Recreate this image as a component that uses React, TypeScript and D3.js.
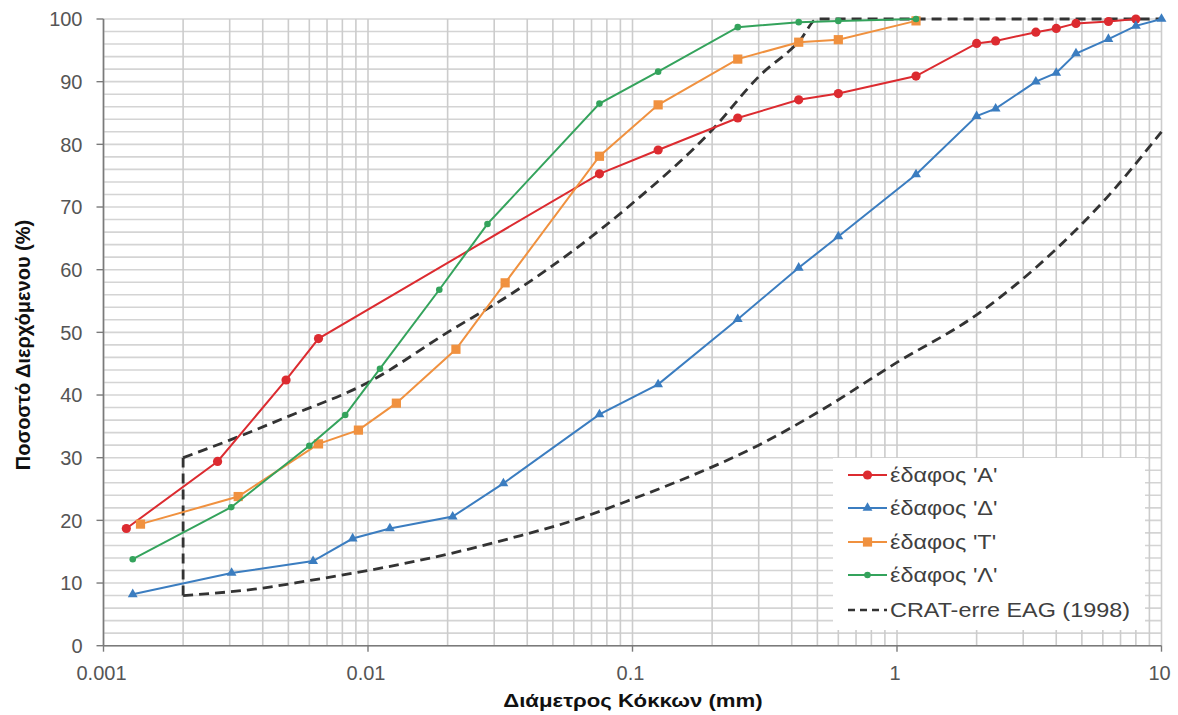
import React from "react";
import * as d3 from "d3";

// ---------- data ----------
const xTickValues = [0.001, 0.01, 0.1, 1, 10];
const xTickLabels = ["0.001", "0.01", "0.1", "1", "10"];
const yTickValues = [0, 10, 20, 30, 40, 50, 60, 70, 80, 90, 100];

const soilA_d = [0.00122, 0.0027, 0.0049, 0.0065, 0.075, 0.125, 0.25, 0.425, 0.6, 1.18, 2.0, 2.36, 3.35, 4.0, 4.75, 6.3, 8.0];
const soilA_p = [18.7, 29.4, 42.4, 49.0, 75.3, 79.1, 84.2, 87.1, 88.1, 90.9, 96.1, 96.5, 97.9, 98.5, 99.3, 99.6, 100];

const soilD_d = [0.00129, 0.00305, 0.0062, 0.00875, 0.0121, 0.0209, 0.0325, 0.075, 0.125, 0.25, 0.425, 0.6, 1.18, 2.0, 2.36, 3.35, 4.0, 4.75, 6.3, 8.0, 10];
const soilD_p = [8.2, 11.6, 13.5, 17.1, 18.7, 20.6, 25.9, 36.9, 41.7, 52.1, 60.3, 65.3, 75.2, 84.5, 85.7, 90.0, 91.4, 94.5, 96.8, 98.9, 100];

const soilT_d = [0.00138, 0.00323, 0.0065, 0.0092, 0.0128, 0.0215, 0.033, 0.075, 0.125, 0.25, 0.425, 0.6, 1.18];
const soilT_p = [19.4, 23.8, 32.2, 34.4, 38.7, 47.3, 57.9, 78.1, 86.3, 93.6, 96.3, 96.7, 99.7];

const soilL_d = [0.00129, 0.00304, 0.006, 0.0082, 0.0111, 0.0186, 0.0283, 0.075, 0.125, 0.25, 0.425, 0.6, 1.18];
const soilL_p = [13.8, 22.1, 31.9, 36.8, 44.2, 56.8, 67.3, 86.5, 91.6, 98.7, 99.5, 99.7, 100];

const cratUpper_d = [0.002, 0.003, 0.005, 0.01, 0.02, 0.035, 0.1, 0.2, 0.3, 0.43, 0.5, 10];
const cratUpper_p = [30, 32.8, 36.6, 42, 50, 56.2, 70.6, 82.3, 90.8, 96.6, 100, 100];
const cratLower_d = [0.002, 0.004, 0.006, 0.01, 0.02, 0.035, 0.06, 0.1, 0.15, 0.3, 0.5, 1, 2, 4, 6, 10];
const cratLower_p = [8, 9.2, 10.4, 12, 14.6, 17.2, 20, 23.4, 26.3, 32, 37.2, 45.2, 52.8, 63.3, 70.8, 82];
const cratEdge_d = [0.002, 0.002];
const cratEdge_p = [8, 30];

const legendLabels = ["έδαφος 'Α'", "έδαφος 'Δ'", "έδαφος 'Τ'", "έδαφος 'Λ'", "CRAT-erre EAG (1998)"];

// ---------- layout ----------
const W = 1178;
const H = 715;
const FONT = "'Liberation Sans', Arial, sans-serif";
const STRETCH = 1.17;

const x = d3.scaleLog().domain([0.001, 10]).range([103.5, 1161.5]);
const y = d3.scaleLinear().domain([0, 100]).range([645.7, 19]);

const zip = (ds: number[], ps: number[]) => ds.map((d, i) => [d, ps[i]] as [number, number]);

const lineGen = d3.line<[number, number]>().x((d) => x(d[0])).y((d) => y(d[1]));
const curveGen = d3
  .line<[number, number]>()
  .x((d) => x(d[0]))
  .y((d) => y(d[1]))
  .curve(d3.curveMonotoneX);

type Marker = "circle" | "triangle" | "square" | "small";

const series = [
  { name: legendLabels[0], data: zip(soilA_d, soilA_p), color: "#dc2b30", marker: "circle" as Marker },
  { name: legendLabels[1], data: zip(soilD_d, soilD_p), color: "#3b7dc0", marker: "triangle" as Marker },
  { name: legendLabels[2], data: zip(soilT_d, soilT_p), color: "#f0913f", marker: "square" as Marker },
  { name: legendLabels[3], data: zip(soilL_d, soilL_p), color: "#34a35c", marker: "small" as Marker },
];

function MarkerShape({ kind, cx, cy, color }: { kind: Marker; cx: number; cy: number; color: string }) {
  if (kind === "circle") return <circle cx={cx} cy={cy} r={4.6} fill={color} />;
  if (kind === "small") return <circle cx={cx} cy={cy} r={3.3} fill={color} />;
  if (kind === "square") return <rect x={cx - 4.6} y={cy - 4.6} width={9.2} height={9.2} fill={color} />;
  const p = d3.symbol().type(d3.symbolTriangle).size(42)() || "";
  return <path d={p} transform={`translate(${cx},${cy})`} fill={color} />;
}

export default function App() {
  const vGrid: number[] = [];
  for (let e = -3; e < 1; e++) {
    for (let k = 1; k <= 9; k++) vGrid.push(k * Math.pow(10, e));
  }
  vGrid.push(10);
  const hGrid = d3.range(0, 101, 2);

  const dashStyle = { stroke: "#333", strokeWidth: 2.8, strokeDasharray: "10,6", fill: "none" };

  const legX = 833;
  const legY = 458;
  const legRowY = [475, 508, 542, 575, 610];

  return (
    <svg
      width={W}
      height={H}
      style={{ position: "absolute", left: 0, top: 0, background: "#fff" }}
      fontFamily={FONT}
    >
      <rect x={0} y={0} width={W} height={H} fill="#fff" />
      {hGrid.map((v) => (
        <line key={"h" + v} x1={x(0.001)} x2={x(10)} y1={y(v)} y2={y(v)} stroke="#d4d4d4" strokeWidth={1.6} />
      ))}
      {vGrid.map((v, i) => (
        <line key={"v" + i} x1={x(v)} x2={x(v)} y1={y(0)} y2={y(100)} stroke="#cccccc" strokeWidth={1.6} />
      ))}

      <line x1={x(0.001)} x2={x(0.001)} y1={y(0)} y2={y(100)} stroke="#7a7a7a" strokeWidth={1.6} />
      <line x1={x(0.001)} x2={x(10)} y1={y(0)} y2={y(0)} stroke="#7a7a7a" strokeWidth={1.6} />
      {yTickValues.map((v) => (
        <g key={"yt" + v}>
          <line x1={x(0.001) - 7} x2={x(0.001)} y1={y(v)} y2={y(v)} stroke="#7a7a7a" strokeWidth={1.4} />
          <text x={82.5} y={y(v)} dy="0.36em" textAnchor="end" fontSize={20} fill="#555">
            {v}
          </text>
        </g>
      ))}
      {xTickValues.map((v, i) => (
        <g key={"xt" + v}>
          <line x1={x(v)} x2={x(v)} y1={y(0)} y2={y(0) + 6} stroke="#7a7a7a" strokeWidth={1.4} />
          <text x={x(v) - 2} y={680} textAnchor="middle" fontSize={20} fill="#555">
            {xTickLabels[i]}
          </text>
        </g>
      ))}

      <path d={lineGen(zip(cratEdge_d, cratEdge_p)) || ""} style={dashStyle} />
      <path d={curveGen(zip(cratUpper_d, cratUpper_p)) || ""} style={dashStyle} />
      <path d={curveGen(zip(cratLower_d, cratLower_p)) || ""} style={dashStyle} />

      {series.map((s) => (
        <g key={s.name}>
          <path d={lineGen(s.data) || ""} fill="none" stroke={s.color} strokeWidth={2} />
          {s.data.map((d, i) => (
            <MarkerShape key={i} kind={s.marker} cx={x(d[0])} cy={y(d[1])} color={s.color} />
          ))}
        </g>
      ))}

      <rect x={legX} y={legY} width={312} height={172} fill="#fff" />
      {series.map((s, i) => (
        <g key={"lg" + i}>
          <line x1={848} x2={887} y1={legRowY[i]} y2={legRowY[i]} stroke={s.color} strokeWidth={2} />
          <MarkerShape kind={s.marker} cx={867.5} cy={legRowY[i]} color={s.color} />
          <text
            transform={`translate(890,${legRowY[i]}) scale(${STRETCH},1)`}
            dy="0.36em"
            fontSize={20}
            fill="#404040"
          >
            {s.name}
          </text>
        </g>
      ))}
      <line x1={848} x2={887} y1={legRowY[4]} y2={legRowY[4]} stroke="#333" strokeWidth={2.4} strokeDasharray="7,5" />
      <text
        transform={`translate(890,${legRowY[4]}) scale(${STRETCH},1)`}
        dy="0.36em"
        fontSize={20}
        fill="#404040"
      >
        {legendLabels[4]}
      </text>

      <text
        transform={`translate(633,707) scale(${STRETCH},1)`}
        textAnchor="middle"
        fontSize={19}
        fontWeight="bold"
        fill="#111"
      >
        Διάμετρος Κόκκων (mm)
      </text>
      <text
        transform={`translate(30,345) rotate(-90)`}
        textAnchor="middle"
        fontSize={20}
        fontWeight="bold"
        fill="#111"
      >
        Ποσοστό Διερχόμενου (%)
      </text>
    </svg>
  );
}
